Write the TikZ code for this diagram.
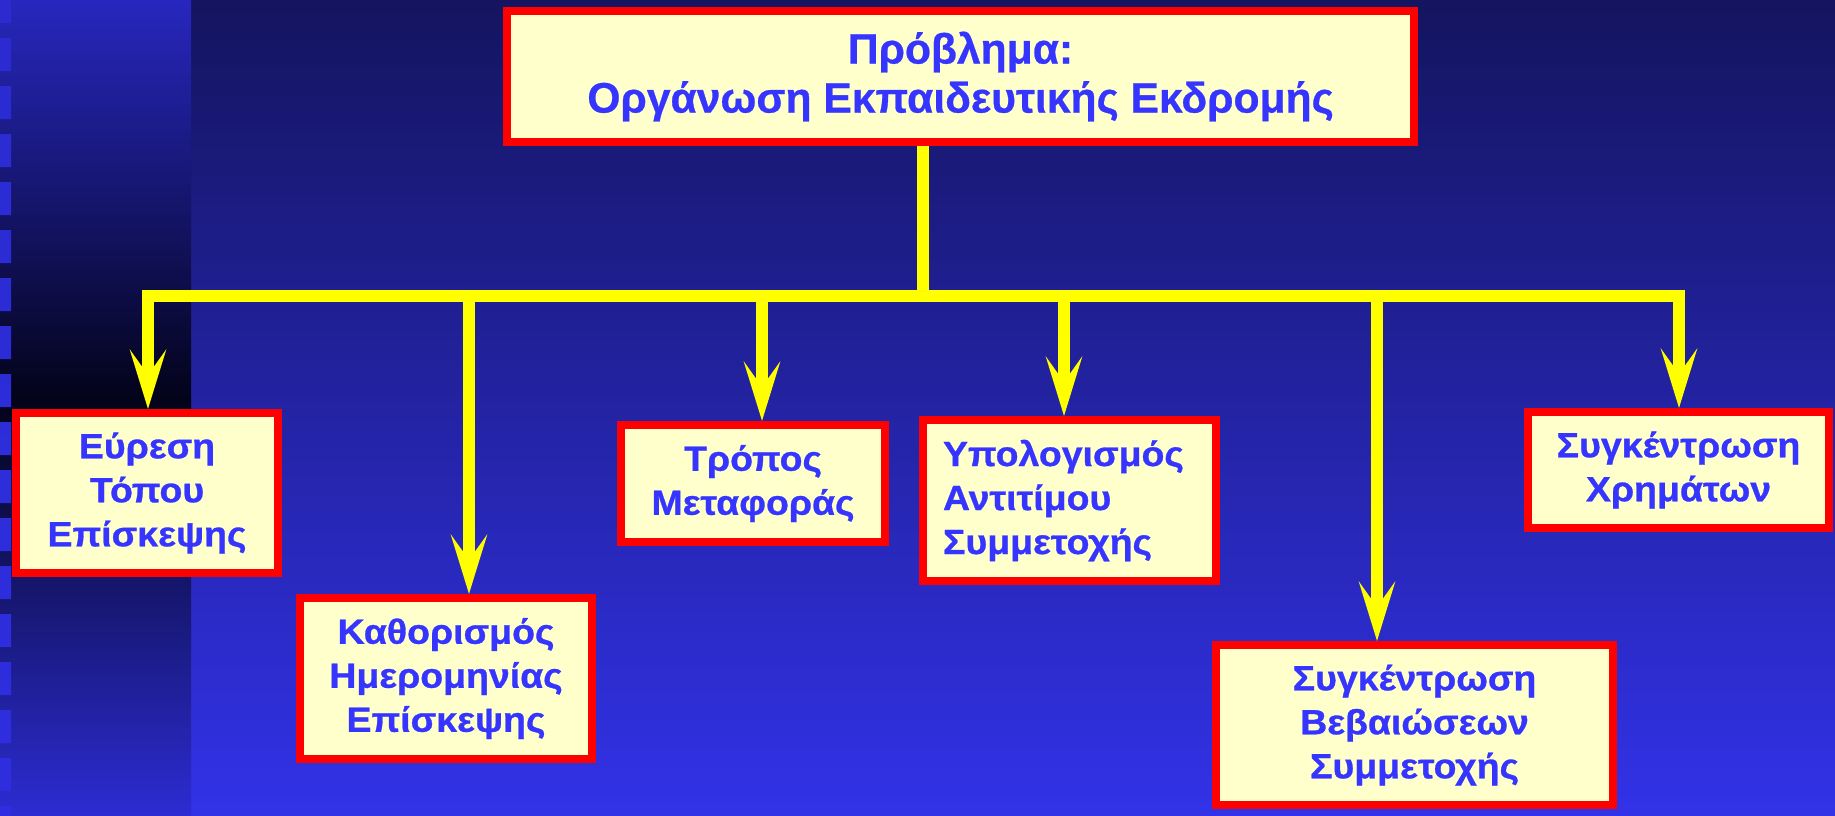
\documentclass[tikz,border=0pt]{standalone}
\usepackage{fontspec}
\newfontfamily\titlefont{Liberation Sans}[FakeBold=0.6]
\newfontfamily\boxfont{Liberation Sans}[FakeStretch=1.07,FakeBold=0.8]
\usetikzlibrary{arrows.meta}
\definecolor{boxfill}{HTML}{FFFFCC}
\definecolor{boxred}{HTML}{FF0000}
\definecolor{txtblue}{HTML}{3535FF}
\definecolor{lineyellow}{HTML}{FFFF00}
\definecolor{bgtop}{RGB}{20,20,95}
\definecolor{bgbot}{RGB}{50,50,232}
\definecolor{striptop}{HTML}{2727BF}
\definecolor{stripmid}{HTML}{1B1B82}
\definecolor{stripdark}{HTML}{03031A}
\definecolor{stripbot}{HTML}{2C2CD2}
\definecolor{sqtop}{HTML}{2B2BD0}
\definecolor{sqmid}{HTML}{1C1C88}
\definecolor{sqbot}{HTML}{2E2EE0}
\begin{document}
\begin{tikzpicture}[x=0.5pt,y=-0.5pt,
  box/.style={draw=boxred, line width=4pt, fill=boxfill, text=txtblue,
    inner sep=0pt, align=center,
    font={\boxfont\bfseries\fontsize{17.5}{22}\selectfont}},
  titlebox/.style={box, font={\titlefont\bfseries\fontsize{21.3}{24.5}\selectfont}},
  conn/.style={draw=lineyellow, line width=6pt},
  arr/.style={conn, -{Stealth[length=29.5pt,width=18pt,inset=12.5pt]}}]
\useasboundingbox (0,0) rectangle (1835,815);
% background
\shade[top color=bgtop, bottom color=bgbot] (0,0) rectangle (1835,815);
\shade[top color=striptop, middle color=stripmid, bottom color=stripdark] (0,0) rectangle (191,400);
\shade[top color=stripdark, bottom color=stripbot] (0,399) rectangle (191,815);
\begin{scope}
  \clip foreach \k in {-1,...,16} {(0,{38+48*\k}) rectangle (11,{71+48*\k})};
  \shade[top color=sqtop, middle color=sqmid, bottom color=sqbot] (0,0) rectangle (11,815);
\end{scope}
% boxes
\node[titlebox, minimum width=453.5pt, minimum height=65.5pt] (top) at (960.5,76.5)
  {Πρόβλημα:\\Οργάνωση Εκπαιδευτικής Εκδρομής};
\node[box, minimum width=131pt, minimum height=80pt] (b1) at (147,493)
  {Εύρεση\\Τόπου\\Επίσκεψης};
\node[box, minimum width=146pt, minimum height=80.5pt] (b2) at (446,678.5)
  {Καθορισμός\\Ημερομηνίας\\Επίσκεψης};
\node[box, minimum width=132pt, minimum height=58.5pt] (b3) at (753,483.5)
  {Τρόπος\\Μεταφοράς};
\node[box, align=left, text width=126.5pt, minimum width=146.5pt, minimum height=80.5pt] (b4) at (1069.5,500.5)
  {Υπολογισμός\\Αντιτίμου\\Συμμετοχής};
\node[box, minimum width=198.5pt, minimum height=80pt] (b5) at (1414.5,725)
  {Συγκέντρωση\\Βεβαιώσεων\\Συμμετοχής};
\node[box, minimum width=150.5pt, minimum height=58pt] (b6) at (1678.5,470)
  {Συγκέντρωση\\Χρημάτων};
% connectors
\coordinate (j) at (923,295.5);
\coordinate (d1) at (148,295.5);
\coordinate (d2) at (469,295.5);
\coordinate (d3) at (762,295.5);
\coordinate (d4) at (1064,295.5);
\coordinate (d5) at (1377,295.5);
\coordinate (d6) at (1679,295.5);
\draw[conn] (top.south -| j) -- (j);
\draw[conn, line cap=rect] (d1) -- (d6);
\draw[arr] (d1) -- (d1 |- b1.north);
\draw[arr] (d2) -- (d2 |- b2.north);
\draw[arr] (d3) -- (d3 |- b3.north);
\draw[arr] (d4) -- (d4 |- b4.north);
\draw[arr] (d5) -- (d5 |- b5.north);
\draw[arr] (d6) -- (d6 |- b6.north);
\end{tikzpicture}
\end{document}
